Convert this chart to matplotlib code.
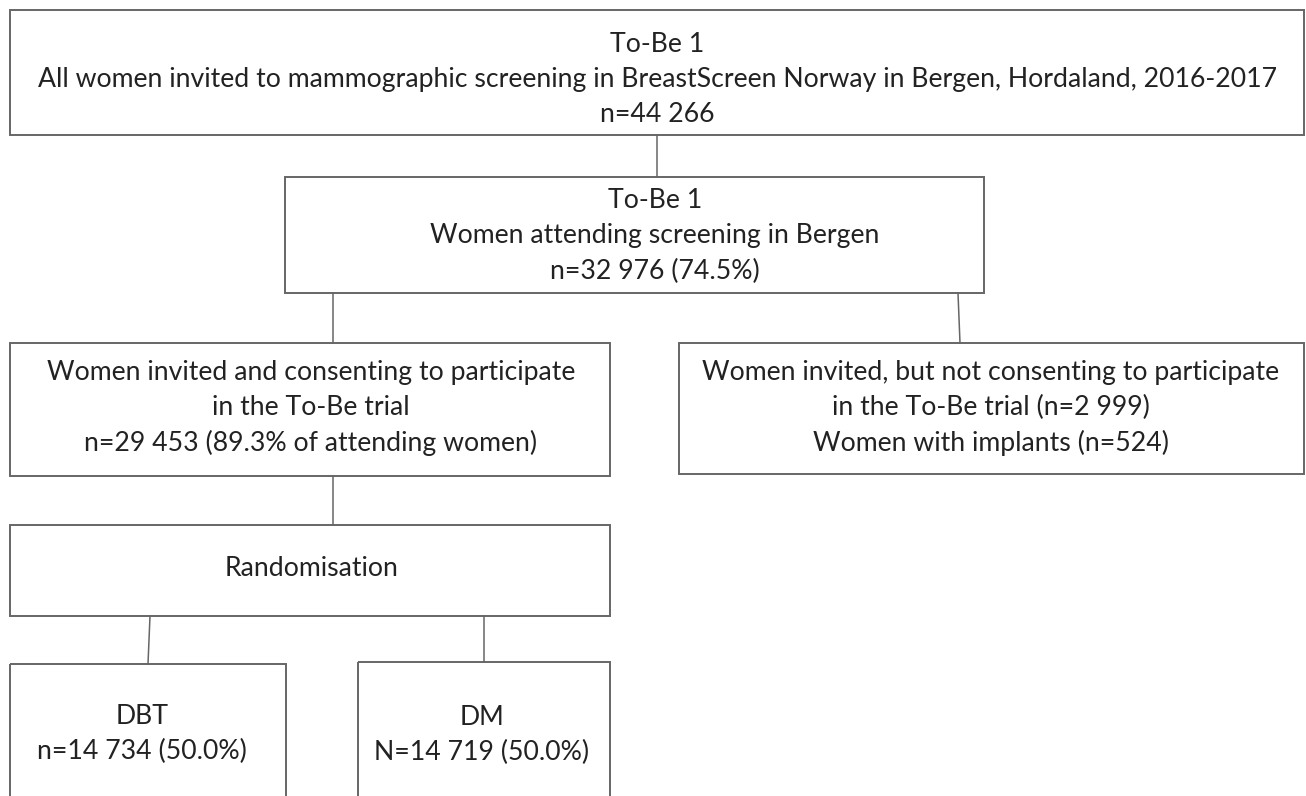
import matplotlib
matplotlib.use("Agg")
import matplotlib.pyplot as plt
from matplotlib.patches import Rectangle

# ---- content ----
box_texts = [
    "To-Be 1\nAll women invited to mammographic screening in BreastScreen Norway in Bergen, Hordaland, 2016-2017\nn=44 266",
    "To-Be 1\nWomen attending screening in Bergen\nn=32 976 (74.5%)",
    "Women invited and consenting to participate\nin the To-Be trial\nn=29 453 (89.3% of attending women)",
    "Women invited, but not consenting to participate\nin the To-Be trial (n=2 999)\nWomen with implants (n=524)",
    "Randomisation",
    "DBT\nn=14 734 (50.0%)",
    "DM\nN=14 719 (50.0%)",
]

# ---- layout (pixel coordinates) ----
boxes = [  # x0, y0, x1, y1
    (10, 10, 1304, 135),
    (285, 177, 984, 293),
    (10, 343, 610, 476),
    (679, 343, 1304, 474),
    (10, 525, 610, 616),
    (10, 664, 286, 830),
    (358, 662, 610, 830),
]
text_pos = [  # center x, center y
    (657, 79),
    (655, 236),
    (311, 408),
    (991, 408),
    (312, 568),
    (142, 734),
    (482, 735),
]
connectors = [
    ((657, 135), (657, 177)),
    ((333, 293), (333, 343)),
    ((958, 293), (960, 343)),
    ((333, 476), (333, 525)),
    ((150, 616), (148, 664)),
    ((484, 616), (484, 662)),
]

W, H = 1306, 796
fig = plt.figure(figsize=(W / 100, H / 100), dpi=100)
ax = fig.add_axes([0, 0, 1, 1])
ax.set_xlim(0, W)
ax.set_ylim(H, 0)
ax.axis("off")

edge = "#666666"
for (x0, y0, x1, y1) in boxes:
    ax.add_patch(Rectangle((x0, y0), x1 - x0, y1 - y0, fill=False,
                           edgecolor=edge, linewidth=1.4))
for (a, b) in connectors:
    ax.plot([a[0], b[0]], [a[1], b[1]], color=edge, linewidth=1.1)

family = ["Lato", "DejaVu Sans"]
# fit font size so the longest line matches reference width (~1233 px)
probe = ax.text(0, 0, box_texts[0].split("\n")[1], fontsize=18, family=family)
fig.canvas.draw()
wpx = probe.get_window_extent().width
probe.remove()
fs = 18 * 1233 / wpx

for t, (cx, cy) in zip(box_texts, text_pos):
    ax.text(cx, cy, t, ha="center", va="center", multialignment="center",
            fontsize=fs, family=family, color="#222222", linespacing=1.5)

fig.savefig("out.png", dpi=100)
